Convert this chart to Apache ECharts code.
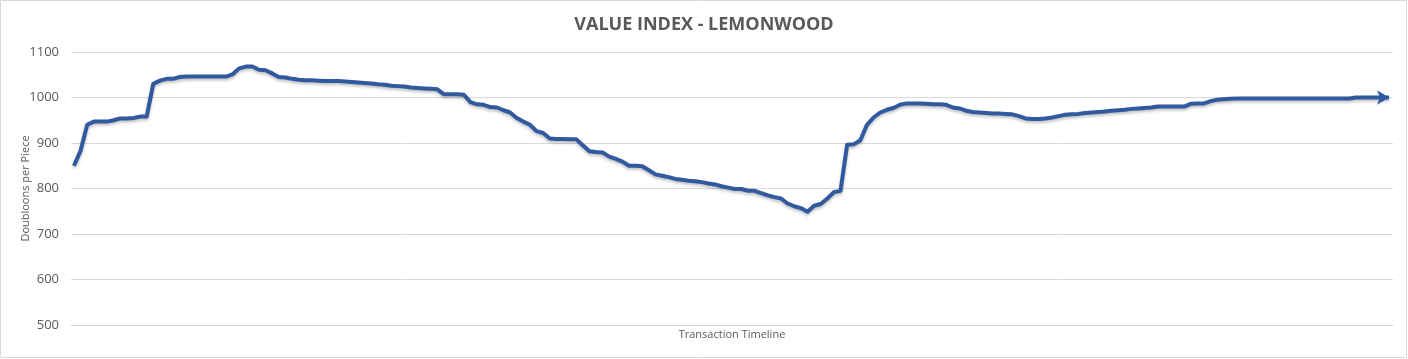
<!DOCTYPE html>
<html>
<head>
<meta charset="utf-8">
<script src="https://cdn.jsdelivr.net/npm/echarts@6/dist/echarts.min.js"></script>
<style>
html,body{margin:0;padding:0;background:#fff;}
#chart{width:1408px;height:359px;}
</style>
</head>
<body>
<div id="chart"></div>
<script>
const chartTitle = 'VALUE INDEX - LEMONWOOD';
const yAxisName = 'Doubloons per Piece';
const xAxisName = 'Transaction Timeline';
const yTicks = [500, 600, 700, 800, 900, 1000, 1100];

// Value index readings, one per transaction
const values = [
  850, 883, 940, 947, 947, 947, 950, 954, 954, 955,
  958, 958, 1030, 1037, 1041, 1041, 1045, 1046, 1046, 1046,
  1046, 1046, 1046, 1046, 1051, 1064, 1068, 1068, 1061, 1060,
  1053, 1045, 1044, 1041, 1039, 1038, 1038, 1037, 1036, 1036,
  1036, 1035, 1034, 1033, 1032, 1031, 1029, 1028, 1026, 1025,
  1024, 1022, 1021, 1020, 1019, 1018, 1007, 1007, 1007, 1006,
  990, 985, 984, 979, 978, 972, 967, 955, 947, 940,
  926, 922, 910, 909, 909, 908, 908, 895, 882, 880,
  879, 870, 865, 859, 850, 850, 849, 840, 831, 828,
  825, 821, 819, 817, 816, 814, 811, 809, 805, 802,
  799, 799, 795, 795, 790, 785, 781, 778, 767, 761,
  757, 749, 762, 766, 778, 792, 795, 896, 897, 906,
  940, 956, 967, 973, 977, 984, 987, 987, 987, 986,
  985, 985, 984, 978, 976, 971, 968, 967, 966, 965,
  965, 964, 963, 959, 954, 953, 953, 954, 956, 959,
  962, 963, 964, 966, 967, 968, 969, 971, 972, 973,
  975, 976, 977, 978, 980, 980, 980, 980, 980, 986,
  987, 987, 992, 995, 996, 997, 998, 998, 998, 998,
  998, 998, 998, 998, 998, 998, 998, 998, 998, 998,
  998, 998, 998, 998, 1000, 1000, 1000, 1000, 1000, 1000
];

const seriesData = values.map(function (v, i) {
  if (i === values.length - 1) {
    return { value: [i, v], symbol: 'arrow', symbolSize: [11, 12], symbolRotate: -90 };
  }
  return [i, v];
});

const chart = echarts.init(document.getElementById('chart'), null, { renderer: 'canvas' });
const txt = '#595959';
chart.setOption({
  backgroundColor: '#ffffff',
  animation: false,
  title: {
    text: chartTitle,
    left: 'center',
    top: 11,
    textStyle: { fontFamily: 'Open Sans', fontWeight: 'bold', fontSize: 18, color: txt }
  },
  graphic: [{
    type: 'rect',
    shape: { x: 0.5, y: 0.5, width: 1406, height: 357 },
    style: { fill: 'none', stroke: '#d9d9d9', lineWidth: 1 },
    silent: true
  }],
  grid: { left: 71, right: 15, top: 52, bottom: 34, containLabel: false },
  xAxis: {
    type: 'value',
    min: -0.45,
    max: values.length - 1 + 0.6,
    name: xAxisName,
    nameLocation: 'middle',
    nameGap: 4,
    nameMoveOverlap: false,
    nameTextStyle: { fontFamily: 'Open Sans', fontSize: 11, color: txt, verticalAlign: 'top' },
    axisLine: { show: true, lineStyle: { color: '#d9d9d9', width: 1 } },
    axisTick: { show: false },
    axisLabel: { show: false },
    splitLine: { show: false }
  },
  yAxis: {
    type: 'value',
    min: yTicks[0],
    max: yTicks[yTicks.length - 1],
    interval: 100,
    name: yAxisName,
    nameLocation: 'middle',
    nameRotate: 90,
    nameGap: 40,
    nameMoveOverlap: false,
    nameTextStyle: { fontFamily: 'Open Sans', fontSize: 11, color: txt },
    axisLine: { show: false },
    axisTick: { show: false },
    axisLabel: {
      margin: 12, fontFamily: 'Open Sans', fontSize: 13, color: txt,
      formatter: function (v) { return String(v); }
    },
    splitLine: { lineStyle: { color: '#d9d9d9', width: 1 } }
  },
  series: [{
    type: 'line',
    data: seriesData,
    symbol: 'none',
    showSymbol: true,
    showAllSymbol: true,
    itemStyle: { color: '#30599f' },
    lineStyle: {
      color: '#30599f',
      width: 4,
      join: 'round',
      shadowColor: 'rgba(0,0,0,0.25)',
      shadowBlur: 3,
      shadowOffsetY: 2
    },
    silent: true
  }]
});
</script>
</body>
</html>
